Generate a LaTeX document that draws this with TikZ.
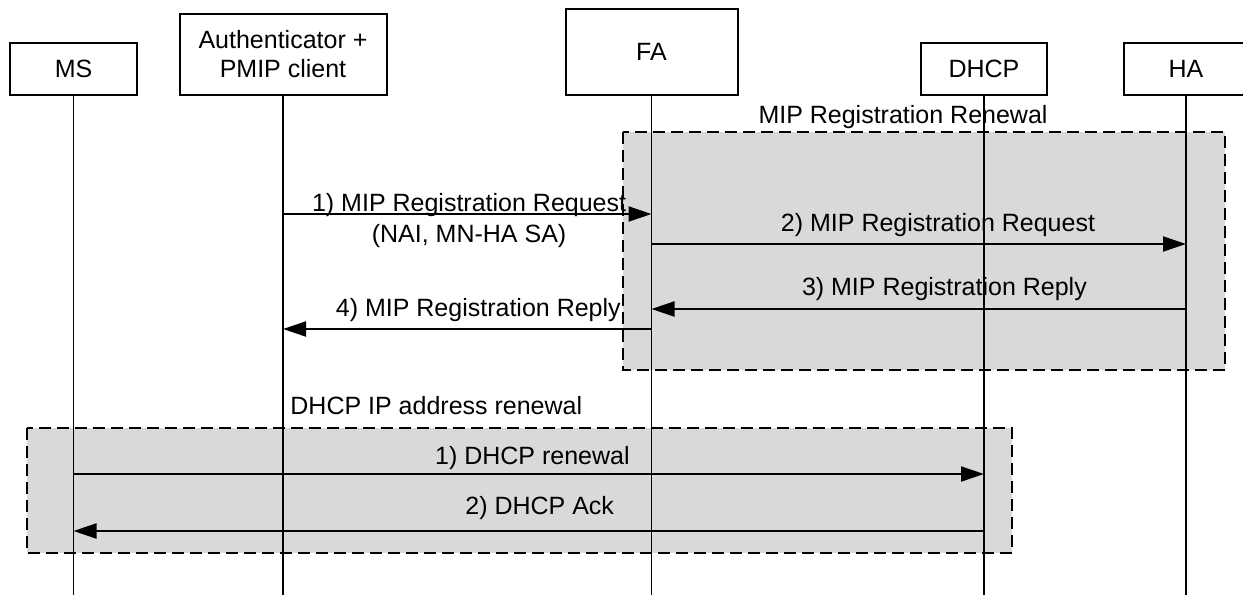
\documentclass[tikz,border=0pt]{standalone}
\usepackage{fontspec}
\setmainfont{Liberation Sans}
\usetikzlibrary{arrows.meta}

\definecolor{framegray}{RGB}{217,217,217}

\tikzset{
  entity/.style={draw, line width=1pt, align=center, inner sep=0pt},
  lifeline/.style={line width=0.9pt},
  msg/.style={line width=1pt, -{Triangle[length=11.5pt,width=7.5pt]}},
  phase/.style={draw, fill=framegray, dash pattern=on 6pt off 3pt, line width=0.8pt},
  msglabel/.style={anchor=base, inner sep=0pt},
}

\begin{document}
\begin{tikzpicture}[x=0.5pt, y=-0.5pt, font=\fontsize{12.5}{14.5}\selectfont]
    \useasboundingbox (0,0) rectangle (1243,595);

    % phases (drawn first, lifelines run over them)
    \draw[phase] (623,132) rectangle (1225,370);
    \node (mipphase) at (903,117) {MIP Registration Renewal};
    \draw[phase] (27,428) rectangle (1012,553);
    \node[anchor=west, inner sep=0pt] (dhcpphase) at (290,406) {DHCP IP address renewal};

    % participants
    \node[entity, minimum width=63.5pt, minimum height=26pt] (ms) at (73.5,69) {MS};
    \node[entity, minimum width=103.5pt, minimum height=40.5pt] (auth) at (283,54.5) {Authenticator +\\PMIP client};
    \node[entity, minimum width=86pt, minimum height=43pt] (fa) at (651.5,52) {FA};
    \node[entity, minimum width=63pt, minimum height=26pt] (dhcp) at (984,69) {DHCP};
    \node[entity, minimum width=62pt, minimum height=26pt] (ha) at (1186,69) {HA};

    \foreach \p in {ms,auth,fa,dhcp,ha}
        \draw[lifeline] (\p.south) -- (\p.south |- 0,595);

    % MIP registration
    \draw[msg] (auth |- 0,214) -- (fa |- 0,214)
        node[msglabel, pos=0.505, yshift=1.5pt] (req1) {1) MIP Registration Request};
    \node[msglabel] (nai) at ([yshift=-15.5pt]req1.base) {(NAI, MN-HA SA)};
    \draw[msg] (fa |- 0,244) -- (ha |- 0,244)
        node[msglabel, pos=0.536, yshift=6.5pt] (req2) {2) MIP Registration Request};
    \draw[msg] (ha |- 0,309) -- (fa |- 0,309)
        node[msglabel, pos=0.452, yshift=7pt] (rep3) {3) MIP Registration Reply};
    \draw[msg] (fa |- 0,329) -- (auth |- 0,329)
        node[msglabel, pos=0.47, yshift=6.5pt] (rep4) {4) MIP Registration Reply};

    % DHCP renewal
    \draw[msg] (ms |- 0,474) -- (dhcp |- 0,474)
        node[msglabel, pos=0.504, yshift=5pt] (ren1) {1) DHCP renewal};
    \draw[msg] (dhcp |- 0,531) -- (ms |- 0,531)
        node[msglabel, pos=0.488, yshift=8.5pt] (ack2) {2) DHCP Ack};
\end{tikzpicture}
\end{document}
